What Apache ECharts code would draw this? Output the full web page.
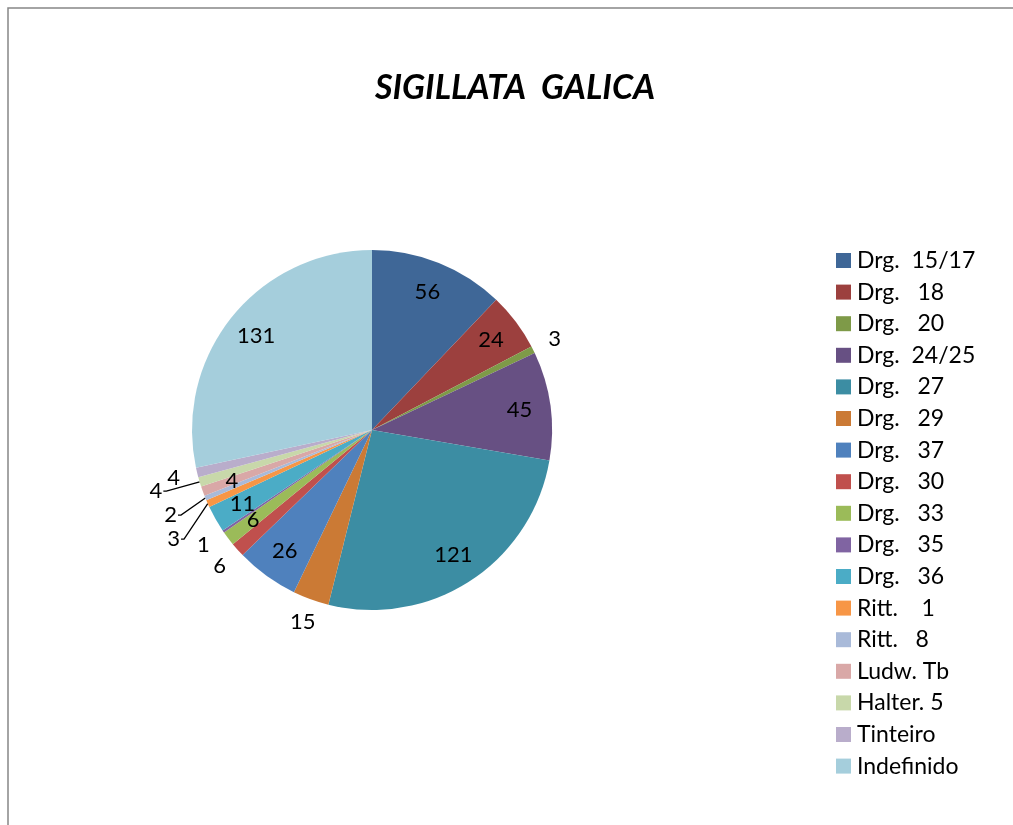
<!DOCTYPE html>
<html>
<head>
<meta charset="utf-8">
<script src="https://cdn.jsdelivr.net/npm/echarts@6/dist/echarts.min.js"></script>
<style>
  html, body { margin: 0; padding: 0; background: #fff; }
  #chart { width: 1013px; height: 825px; }
</style>
</head>
<body>
<div id="chart"></div>
<script>
// categorias (legenda) e contagens por forma
const categories = [
  'Drg.  15/17', 'Drg.   18', 'Drg.   20', 'Drg.  24/25', 'Drg.   27', 'Drg.   29',
  'Drg.   37', 'Drg.   30', 'Drg.   33', 'Drg.   35', 'Drg.   36', 'Ritt.    1',
  'Ritt.   8', 'Ludw. Tb', 'Halter. 5', 'Tinteiro', 'Indefinido'
];
const counts = [56, 24, 3, 45, 121, 15, 26, 6, 6, 1, 11, 3, 2, 4, 4, 4, 131];

// paleta tipo Excel 2007 (escuro, normal, claro)
const colors = [
  '#3F6797', '#9C403E', '#7E9A48', '#675083', '#3C8DA3', '#CB7A35',
  '#4F81BD', '#C0504D', '#9BBB59', '#8064A2', '#4BACC6', '#F79646',
  '#A9BAD9', '#D9A8A7', '#C8D8AA', '#B9ADCB', '#A5CEDC'
];

// onde fica cada rótulo ("best fit" do Excel)
const labelOutside = ['Drg.   20', 'Drg.   29', 'Drg.   30', 'Drg.   35', 'Tinteiro'];
// rótulos com linha de chamada: comprimento do primeiro segmento
const leaderLen = { 'Ritt.    1': 26, 'Ritt.   8': 22, 'Halter. 5': 32 };

const FONT = 'Lato, "Open Sans", sans-serif';
const CENTER = [372, 430];
const R = 180;

const chart = echarts.init(document.getElementById('chart'));

const mainData = categories.map((name, i) => {
  const d = { name, value: counts[i] };
  if (leaderLen[name]) {
    d.label = { show: true };
    d.labelLine = { show: true, length: leaderLen[name] };
  }
  return d;
});

// séries transparentes só para posicionar os rótulos
const overlayData = (names) => categories.map((name, i) => ({
  name, value: counts[i],
  label: { show: names.includes(name) }
}));
const insideNames = categories.filter(n => !labelOutside.includes(n) && !leaderLen[n]);

const labelText = { color: '#000', fontSize: 22, fontFamily: FONT, formatter: '{c}' };
const overlayBase = {
  type: 'pie',
  center: CENTER,
  startAngle: 90,
  clockwise: true,
  silent: true,
  emphasis: { disabled: true },
  itemStyle: { color: 'rgba(0,0,0,0)', borderWidth: 0 },
  labelLine: { show: false },
  labelLayout: { hideOverlap: false },
  tooltip: { show: false },
  animation: false
};

const option = {
  animation: false,
  graphic: [{
    type: 'rect',
    shape: { x: 8, y: 8, width: 1200, height: 1000 },
    style: { fill: 'none', stroke: '#868686', lineWidth: 1.5 },
    silent: true
  }],
  title: {
    text: 'SIGILLATA  GALICA',
    left: 510,
    top: 66,
    textAlign: 'center',
    textStyle: { fontSize: 34, fontWeight: 'bold', fontStyle: 'italic', fontFamily: FONT, color: '#000' }
  },
  legend: {
    orient: 'vertical',
    left: 831,
    top: 244,
    icon: 'rect',
    itemWidth: 15,
    itemHeight: 15,
    itemGap: 8.6,
    data: categories,
    textStyle: { fontSize: 23, fontFamily: FONT, color: '#000', padding: [0, 0, 0, 1] }
  },
  series: [
    {
      name: 'main',
      type: 'pie',
      radius: R,
      center: CENTER,
      startAngle: 90,
      clockwise: true,
      color: colors,
      itemStyle: { borderWidth: 0 },
      emphasis: { disabled: true },
      label: { show: false, position: 'outside', distanceToLabelLine: 1, ...labelText },
      labelLine: { show: false, length: 8, length2: 3, smooth: false, lineStyle: { color: '#000', width: 1.3 } },
      data: mainData
    },
    Object.assign({}, overlayBase, {
      radius: [112, R],
      label: { position: 'inside', ...labelText },
      data: overlayData(insideNames)
    }),
    Object.assign({}, overlayBase, {
      radius: [188, 214],
      label: { position: 'inside', ...labelText },
      data: overlayData(labelOutside)
    })
  ]
};

chart.setOption(option);
</script>
</body>
</html>
